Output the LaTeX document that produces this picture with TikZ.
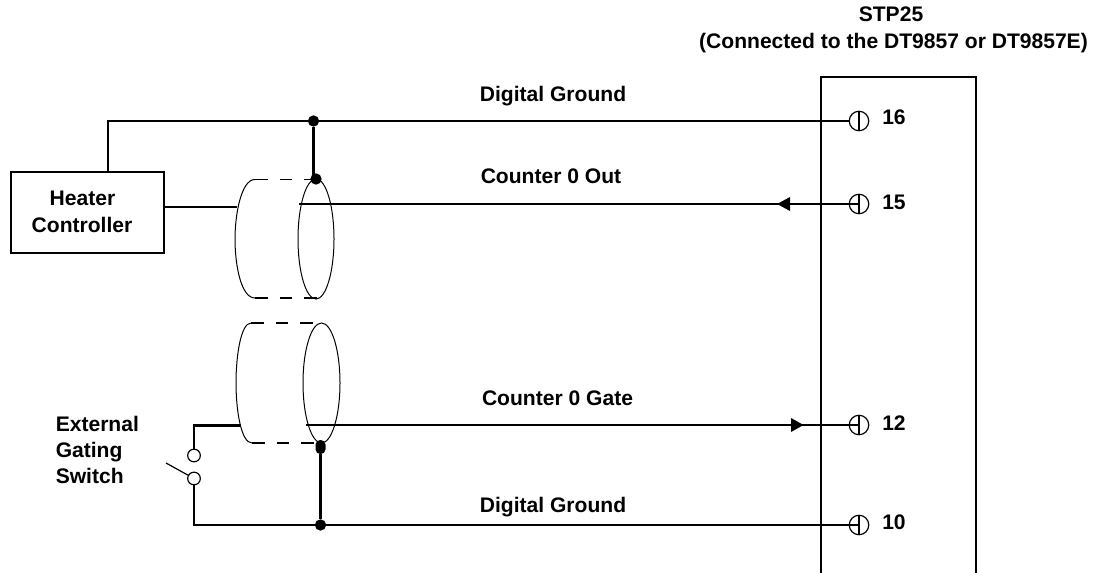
\documentclass[tikz,border=0pt]{standalone}
\usepackage{fontspec}
\setmainfont{Liberation Sans}
\usetikzlibrary{arrows.meta}
\tikzset{
  wire/.style={line width=1.6pt,line cap=butt},
  hair/.style={line width=0.75pt},
  shield dash/.style={line width=1.4pt,dash pattern=on 9.5pt off 9pt},
  label/.style={font=\fontsize{15.8}{19}\selectfont\bfseries,inner sep=0pt,anchor=base},
  dot/.style={circle,fill=black,draw=none,minimum size=8.5pt,inner sep=0pt},
  term/.style={circle,draw=black,line width=0.9pt,minimum size=14.6pt,inner sep=0pt,fill=white},
  contact/.style={circle,draw=black,line width=0.9pt,minimum size=9.5pt,inner sep=0pt,fill=white},
}
\begin{document}
\begin{tikzpicture}[x=0.75pt,y=-0.75pt]
\useasboundingbox[fill=white] (0,0) rectangle (1094,573);
% STP25 box
\coordinate (boxbl) at (821,573);
\coordinate (boxtl) at (821,77);
\coordinate (boxtr) at (976,77);
\coordinate (boxbr) at (976,573);
\draw[wire] (boxbl) -- (boxtl) -- (boxtr) -- (boxbr);
% terminals
\node[term] (t16) at (859,121) {};
\node[term] (t15) at (859,204) {};
\node[term] (t12) at (859,425) {};
\node[term] (t10) at (859,525) {};
\foreach \n in {t16,t15,t12,t10}{\draw[line width=0.9pt] (\n.north) -- (\n.south);}
\node[label,anchor=base west] at (882,124.5) {16};
\node[label,anchor=base west] at (882,210) {15};
\node[label,anchor=base west] at (882,430.5) {12};
\node[label,anchor=base west] at (882,529.5) {10};
% headings
\node[label] at (891,22) {STP25};
\node[label] at (893.5,49) {(Connected to the DT9857 or DT9857E)};
\node[label] at (553,101.5) {Digital Ground};
\node[label] at (551,184) {Counter 0 Out};
\node[label] at (557.5,405.5) {Counter 0 Gate};
\node[label] at (553,512.5) {Digital Ground};
\node[label,anchor=base west] at (55.5,431) {External};
\node[label,anchor=base west] at (55.5,457) {Gating};
\node[label,anchor=base west] at (55.5,483) {Switch};
% heater
\node[draw=black,line width=1.6pt,minimum width=114.5pt,minimum height=60.5pt,inner sep=0pt,anchor=north west] (heater) at (10,171) {};
\node[label] at (82.5,206) {Heater};
\node[label] at (82,233) {Controller};
% junctions
\node[dot] (j1) at (313.5,121) {};
\node[dot] (j2) at (316,179) {};
\node[dot] (j3) at (320.5,525) {};
\node[fill=black,draw=none,rounded corners=3.5pt,minimum width=7.5pt,minimum height=10.5pt,inner sep=0pt] (j4) at (320.5,447) {};
% upper cable
\draw[hair] (316,239) ellipse [x radius=18,y radius=60];
\coordinate (ua) at (255,179.5);
\coordinate (ub) at (255,298);
\draw[hair] (ua) .. controls (241,179.5) and (235,215) .. (235,239) .. controls (235,265) and (241,298) .. (ub);
\draw[shield dash] (ua) -- (ua -| j2);
\draw[shield dash] (ub) -- (323,298);
% lower cable
\draw[hair] (321.5,383) ellipse [x radius=18.5,y radius=60];
\coordinate (la) at (251,323);
\coordinate (lb) at (252,443);
\draw[hair] (la) .. controls (241,323) and (236,355) .. (236,383) .. controls (236,410) and (241,443) .. (lb);
\draw[shield dash] (la) -- (321,323);
\draw[shield dash] (lb) -- (lb -| j4);
% wires
\coordinate (w0) at (108,121);
\draw[wire] (heater.north -| w0) -- (w0) -- (j1) -- (t16);
\draw[wire] (j1) -- (j1 |- j2);
\coordinate (hout) at (237,207);
\draw[wire] (heater.east |- hout) -- (hout);
\coordinate (s15) at (299,204);
\draw[wire] (s15) -- (t15.center);
\fill (777,204) -- (790,197) -- (790,211) -- cycle;
\coordinate (s12) at (306,425);
\draw[wire] (s12) -- (t12.center);
\fill (803.5,425) -- (791,418) -- (791,432) -- cycle;
% switch
\coordinate (g1) at (194,425.5);
\coordinate (g0) at (241,425.5);
\node[contact] (c1) at (194,455.5) {};
\node[contact] (c2) at (194,478.5) {};
\coordinate (blade) at (166,463);
\coordinate (g2) at (194,525);
\draw[wire] (g0) -- (g1) -- (c1);
\draw[wire] (c2) -- (g2) -- (j3) -- (t10.center);
\draw[line width=0.9pt] (blade) -- (c2);
\draw[wire] (j4) -- (j3);
\end{tikzpicture}
\end{document}
